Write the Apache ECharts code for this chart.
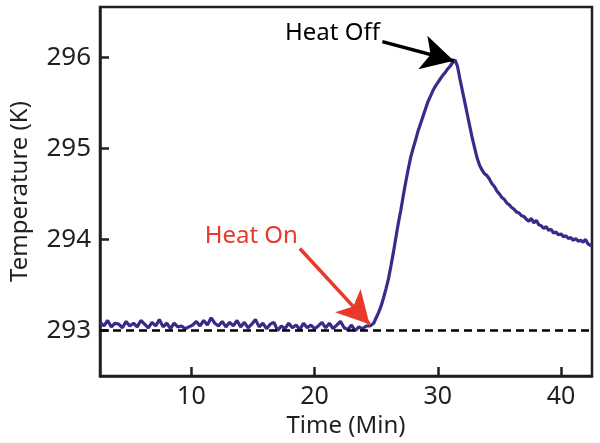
<!DOCTYPE html>
<html>
<head>
<meta charset="utf-8">
<script src="https://cdn.jsdelivr.net/npm/echarts@6/dist/echarts.min.js"></script>
<style>html,body{margin:0;padding:0;background:#fff;}#c{width:600px;height:443px;}</style>
</head>
<body>
<div id="c"></div>
<script>
// ---- data ----
var timeMin = [
 2.6,2.9,3.2,3.5,3.8,4.1,4.4,4.7,5.0,5.3,5.6,5.9,6.2,6.5,6.8,7.1,7.4,7.7,8.0,8.3,8.6,8.9,9.2,9.5,9.8,
 10.1,10.4,10.7,11.0,11.3,11.6,11.9,12.2,12.5,12.8,13.1,13.4,13.7,14.0,14.3,14.6,14.9,15.2,15.5,15.8,
 16.1,16.4,16.7,17.0,17.3,17.6,17.9,18.2,18.5,18.8,19.1,19.4,19.7,20.0,20.3,20.6,20.9,21.2,21.5,21.8,
 22.1,22.4,22.7,23.0,23.3,23.6,23.9,24.2,24.5,24.8,
 25.0,25.2,25.4,25.6,25.8,26.0,26.2,26.4,26.6,26.8,27.0,27.2,27.4,27.6,27.8,28.0,28.2,28.4,28.6,28.8,
 29.0,29.2,29.4,29.6,29.8,30.0,30.2,30.4,30.6,30.8,31.0,31.2,31.4,
 31.6,31.8,32.0,32.2,32.4,32.6,32.8,33.0,33.2,33.4,33.6,33.8,34.0,34.2,34.4,34.6,34.8,35.0,35.2,35.4,
 35.6,35.8,36.0,36.2,36.4,36.6,36.8,37.0,37.2,37.4,37.6,37.8,38.0,38.2,38.4,38.6,38.8,39.0,39.2,39.4,
 39.6,39.8,40.0,40.2,40.4,40.6,40.8,41.0,41.2,41.4,41.6,41.8,42.0,42.2,42.5
];
var temperatureK = [
 293.09,293.05,293.11,293.04,293.08,293.07,293.03,293.10,293.05,293.08,293.04,293.11,293.07,293.03,293.09,293.05,293.12,293.04,293.08,293.02,293.08,293.04,293.05,293.02,293.04,
 293.06,293.10,293.05,293.11,293.06,293.14,293.08,293.05,293.10,293.04,293.09,293.05,293.11,293.04,293.09,293.03,293.07,293.12,293.04,293.08,
 293.02,293.07,293.09,293.00,293.05,293.02,293.08,293.03,293.06,293.01,293.08,293.03,293.06,293.02,293.05,293.09,293.03,293.08,293.02,293.06,
 293.10,293.03,293.01,293.06,293.00,293.04,293.02,293.05,293.05,293.08,
 293.14,293.20,293.27,293.36,293.46,293.57,293.71,293.86,294.02,294.18,294.32,294.48,294.63,294.77,294.90,295.00,295.09,295.19,295.27,295.35,
 295.43,295.51,295.57,295.63,295.68,295.72,295.76,295.80,295.83,295.87,295.90,295.94,295.97,
 295.90,295.76,295.63,295.50,295.37,295.24,295.11,295.00,294.89,294.81,294.76,294.72,294.70,294.66,294.61,294.58,294.53,294.50,294.46,294.44,
 294.40,294.38,294.35,294.33,294.30,294.29,294.26,294.25,294.22,294.20,294.23,294.18,294.21,294.16,294.15,294.12,294.14,294.10,294.11,294.07,
 294.08,294.05,294.06,294.03,294.04,294.01,294.02,293.99,294.01,293.98,293.99,293.97,294.00,293.95,293.93
];
var xTicks = [10, 20, 30, 40];
var yTicks = [293, 294, 295, 296];
var baselineK = 293;
var heatOnLabel = 'Heat On', heatOffLabel = 'Heat Off';
var heatOnText = [14.86, 294.04], heatOnArrow = [[18.8, 293.9], [24.46, 293.07]];
var heatOffText = [21.45, 296.26], heatOffArrow = [[25.5, 296.17], [31.3, 295.96]];

// ---- chart ----
var font = 'Noto Sans';
var ink = '#231f20';
var red = '#e8392b';
var pairs = timeMin.map(function (t, i) { return [t, temperatureK[i]]; });

var chart = echarts.init(document.getElementById('c'), null, {renderer: 'canvas'});
chart.setOption({
  animation: false,
  backgroundColor: '#fff',
  textStyle: {fontFamily: font},
  grid: {left: 97, top: 7, right: 8, bottom: 64, show: true, borderColor: ink, borderWidth: 2.5, backgroundColor: 'transparent'},
  xAxis: {
    type: 'value', min: 2.58, max: 42.52,
    name: 'Time (Min)', nameLocation: 'middle', nameGap: 34,
    nameTextStyle: {fontFamily: font, fontSize: 24, color: ink},
    axisLine: {show: true, lineStyle: {color: ink, width: 2.5}},
    axisTick: {show: true, inside: true, length: 9, customValues: xTicks, lineStyle: {color: ink, width: 2.5}},
    axisLabel: {customValues: xTicks, fontFamily: font, fontSize: 25, color: ink, margin: 8},
    splitLine: {show: false}
  },
  yAxis: {
    type: 'value', min: 292.5, max: 296.55,
    name: 'Temperature (K)', nameLocation: 'middle', nameGap: 68, nameRotate: 90,
    nameTextStyle: {fontFamily: font, fontSize: 24, color: ink},
    axisLine: {show: true, lineStyle: {color: ink, width: 2.5}},
    axisTick: {show: true, inside: true, length: 9, customValues: yTicks, lineStyle: {color: ink, width: 2.5}},
    axisLabel: {customValues: yTicks, fontFamily: font, fontSize: 26, color: ink, margin: 9},
    splitLine: {show: false}
  },
  series: [
    {
      type: 'line', z: 1, data: [], silent: true,
      markLine: {
        silent: true, symbol: ['none', 'none'], label: {show: false},
        lineStyle: {color: '#000', width: 2.5, type: [8, 5]},
        data: [{yAxis: baselineK}]
      }
    },
    {
      type: 'line', z: 3, data: pairs, showSymbol: false, silent: true,
      lineStyle: {color: '#3a2a8a', width: 3.2},
      itemStyle: {color: '#3a2a8a'}
    },
    {
      type: 'line', z: 4, data: [], silent: true,
      markLine: {
        silent: true, symbol: ['none', 'arrow'], symbolSize: [26, 32],
        label: {show: false},
        data: [
          [{coord: heatOnArrow[0], lineStyle: {color: red, width: 3.5, type: 'solid'}, itemStyle: {color: red}}, {coord: heatOnArrow[1]}],
          [{coord: heatOffArrow[0], lineStyle: {color: '#000', width: 3.5, type: 'solid'}, itemStyle: {color: '#000'}}, {coord: heatOffArrow[1]}]
        ]
      },
      markPoint: {
        silent: true, symbol: 'circle', symbolSize: 0,
        data: [
          {coord: heatOnText, label: {show: true, formatter: heatOnLabel, color: red, fontFamily: font, fontSize: 24, position: 'inside'}},
          {coord: heatOffText, label: {show: true, formatter: heatOffLabel, color: '#000', fontFamily: font, fontSize: 24, position: 'inside'}}
        ]
      }
    }
  ]
});
</script>
</body>
</html>
